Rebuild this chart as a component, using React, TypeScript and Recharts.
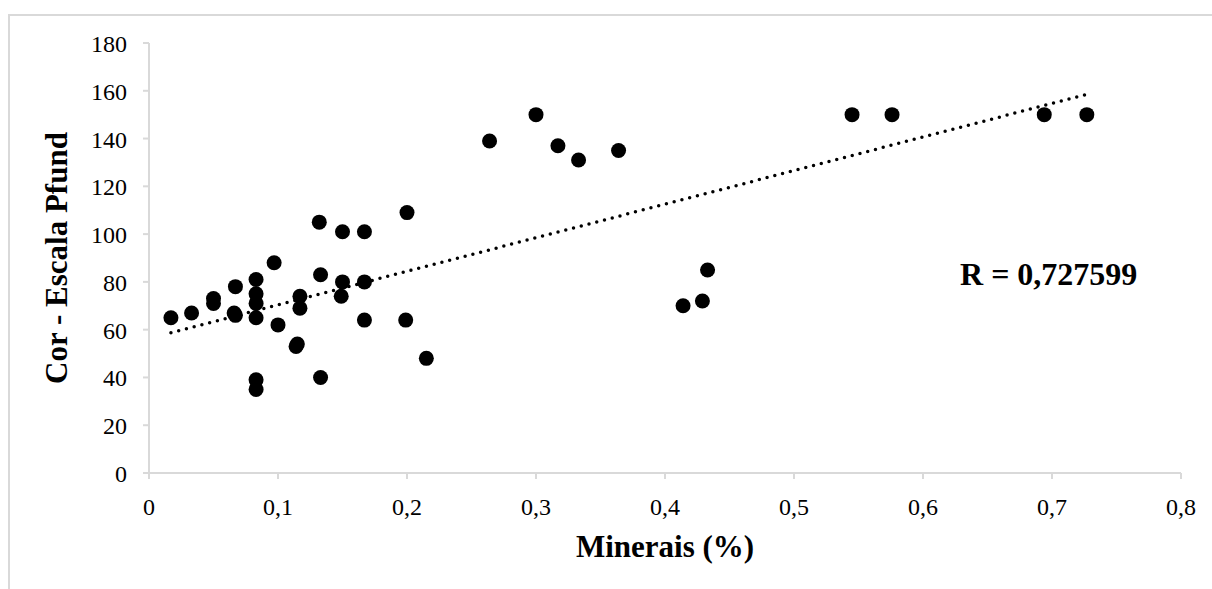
import {
  ScatterChart,
  Scatter,
  XAxis,
  YAxis,
  ReferenceLine,
  ReferenceDot,
} from "recharts";

// Minerais (%) vs Cor (escala Pfund)
const minerais = [
  0.017, 0.033, 0.05, 0.05, 0.067, 0.067, 0.066, 0.083, 0.083, 0.083, 0.083,
  0.083, 0.083, 0.097, 0.1, 0.114, 0.115, 0.117, 0.117, 0.132, 0.133, 0.133,
  0.15, 0.15, 0.149, 0.167, 0.167, 0.167, 0.2, 0.199, 0.215, 0.264, 0.3, 0.317,
  0.333, 0.364, 0.414, 0.429, 0.433, 0.545, 0.576, 0.694, 0.727,
];
const cor = [
  65, 67, 73, 71, 78, 66, 67, 81, 75, 71, 65, 39, 35, 88, 62, 53, 54, 74, 69,
  105, 83, 40, 101, 80, 74, 101, 80, 64, 109, 64, 48, 139, 150, 137, 131, 135,
  70, 72, 85, 150, 150, 150, 150,
];

// linear trendline ends
const trendX = [0.017, 0.727];
const trendY = [58.7, 158.5];

const xTicks = [0, 0.1, 0.2, 0.3, 0.4, 0.5, 0.6, 0.7, 0.8];
const yTicks = [0, 20, 40, 60, 80, 100, 120, 140, 160, 180];

const rText = "R = 0,727599";

const data = minerais.map((m, i) => ({ x: m, y: cor[i] }));

const FONT = "'Liberation Serif', 'Times New Roman', serif";
const AXIS = "#d9d9d9";
const TICK_SIZE = 24;

function XTick(props: any) {
  const { x, y, payload } = props;
  return (
    <text
      x={x}
      y={y + 36}
      textAnchor="middle"
      fontFamily={FONT}
      fontSize={TICK_SIZE}
      fill="#000"
    >
      {String(payload.value).replace(".", ",")}
    </text>
  );
}

function YTick(props: any) {
  const { x, y, payload } = props;
  return (
    <text
      x={x}
      y={y + 9}
      textAnchor="end"
      fontFamily={FONT}
      fontSize={TICK_SIZE}
      fill="#000"
    >
      {payload.value}
    </text>
  );
}

export default function App() {
  return (
    <div
      style={{
        position: "fixed",
        left: 8,
        top: 14,
        right: 0,
        bottom: 0,
        borderTop: `2px solid ${AXIS}`,
        borderLeft: `2px solid ${AXIS}`,
        background: "#fff",
        fontFamily: FONT,
      }}
    >
      <ScatterChart
        width={1202}
        height={573}
        margin={{ top: 27, right: 31, bottom: 0, left: 0 }}
      >
        <XAxis
          type="number"
          dataKey="x"
          domain={[0, 0.8]}
          ticks={xTicks}
          height={116}
          stroke={AXIS}
          strokeWidth={2}
          tickSize={6}
          tickMargin={0}
          tick={<XTick />}
          label={({ viewBox }: any) => (
            <text
              x={viewBox.x + viewBox.width / 2}
              y={viewBox.y + 84}
              textAnchor="middle"
              fontFamily={FONT}
              fontWeight="bold"
              fontSize={31}
              fill="#000"
            >
              Minerais (%)
            </text>
          )}
        />
        <YAxis
          type="number"
          dataKey="y"
          domain={[0, 180]}
          ticks={yTicks}
          width={139}
          stroke={AXIS}
          strokeWidth={2}
          tickSize={6}
          tickMargin={16}
          tick={<YTick />}
          label={({ viewBox }: any) => {
            const lx = viewBox.x + 57;
            const ly = viewBox.y + viewBox.height / 2;
            return (
              <text
                x={lx}
                y={ly}
                transform={`rotate(-90, ${lx}, ${ly})`}
                textAnchor="middle"
                fontFamily={FONT}
                fontWeight="bold"
                fontSize={31}
                fill="#000"
              >
                Cor - Escala Pfund
              </text>
            );
          }}
        />
        <Scatter
          data={data}
          isAnimationActive={false}
          shape={(p: any) => <circle cx={p.cx} cy={p.cy} r={7.5} fill="#000" />}
        />
        <ReferenceLine
          segment={[
            { x: trendX[0], y: trendY[0] },
            { x: trendX[1], y: trendY[1] },
          ]}
          stroke="#000"
          strokeWidth={3.5}
          strokeDasharray="0 8"
          strokeLinecap="round"
        />
        <ReferenceDot
          x={0.6287}
          y={78.7}
          r={0}
          fill="none"
          stroke="none"
          label={({ viewBox }: any) => (
            <text
              x={viewBox.x}
              y={viewBox.y}
              fontFamily={FONT}
              fontWeight="bold"
              fontSize={32}
              fill="#000"
            >
              {rText}
            </text>
          )}
        />
      </ScatterChart>
    </div>
  );
}
